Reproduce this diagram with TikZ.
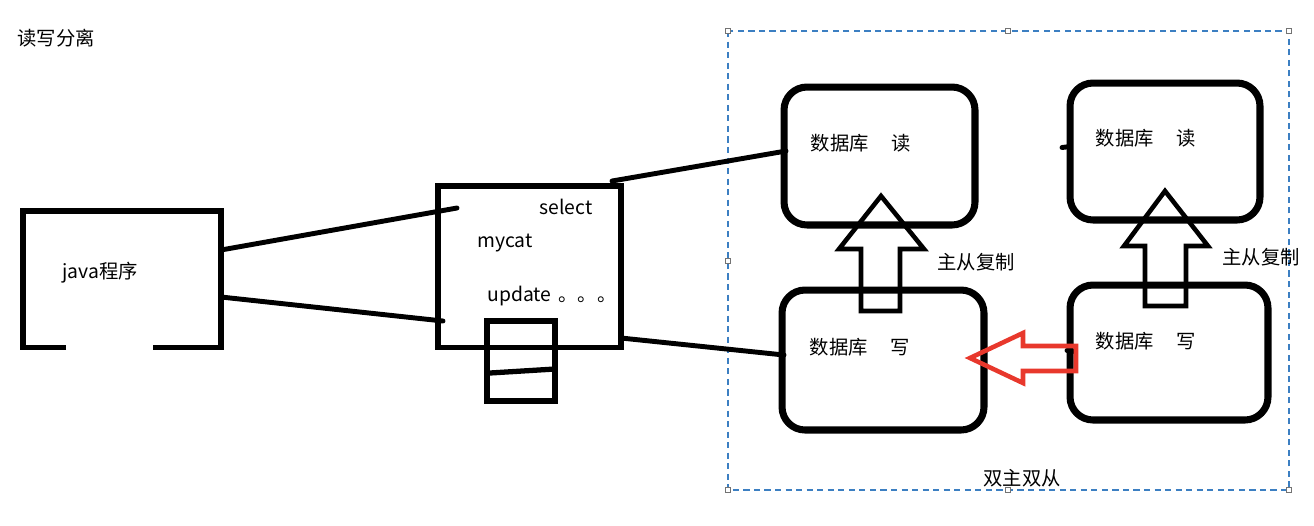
\documentclass[tikz,border=0pt]{standalone}
\usepackage{fontspec}
\setmainfont{Noto Sans CJK SC}
\usepackage{xcolor}
\definecolor{framblue}{HTML}{3C7FC2}
\definecolor{redarrow}{HTML}{E8382C}

\begin{document}
\begin{tikzpicture}[x=0.02cm, y=-0.02cm, font=\fontsize{11pt}{13pt}\selectfont]
    \useasboundingbox (0,0) rectangle (1314,525);
    \tikzset{boxnode/.style={rectangle, draw=black, line width=3.4pt, inner sep=0pt, outer sep=0pt}}
    \tikzset{dbnode/.style={rectangle, rounded corners=0.46cm, draw=black, line width=4pt, inner sep=0pt, outer sep=0pt}}
    \tikzset{wire/.style={line width=2.8pt, line cap=round}}
    \tikzset{blockarrow/.style={draw=black, line width=2.6pt, line join=miter}}
    \tikzset{handle/.style={rectangle, draw=black!55, fill=white, line width=0.5pt, minimum size=0.1cm, inner sep=0pt}}

    % SELECTION FRAME
    \draw[framblue, line width=1pt, dash pattern=on 3.5pt off 2.5pt] (728,31) rectangle (1289,490);
    \foreach \hx/\hy in {728/31, 1008/31, 1289/31, 728/261, 728/490, 1008/490, 1289/490} {
        \node[handle] (h\hx-\hy) at (\hx,\hy) {};
    }

    % TITLE
    \node (title) at (56,38) {读写分离};

    % JAVA PROGRAM
    \node[inner sep=0pt, outer sep=0pt, minimum width=3.96cm, minimum height=2.74cm] (java) at (122,279) {};
    \draw[line width=3.4pt] ([xshift=0.86cm]java.south west) -- (java.south west) -- (java.north west)
        -- (java.north east) -- (java.south east) -- ([xshift=-1.36cm]java.south east);
    \node (javatxt) at (100,273) {java程序};

    % MYCAT
    \node[boxnode, minimum width=3.66cm, minimum height=3.24cm] (mycat) at (529.5,266.5) {};
    \node[boxnode, minimum width=1.36cm, minimum height=1.6cm] (queue) at (521,361) {};
    \draw[line width=3pt] ([shift={(3,12)}]queue.west) -- ([shift={(0,8)}]queue.east);
    \node (sel) at (566,207) {select};
    \node (myc) at (505,243) {mycat};
    \node (upd) at (552,296) {update\hspace{0.35em}。。。};

    % DATABASES
    \node[dbnode, minimum width=3.82cm, minimum height=2.76cm] (dbr1) at (879.5,156) {};
    \node[dbnode, minimum width=4.04cm, minimum height=2.8cm] (dbw1) at (883,360) {};
    \node[dbnode, minimum width=3.8cm, minimum height=2.74cm] (dbr2) at (1165,151.5) {};
    \node[dbnode, minimum width=3.96cm, minimum height=2.7cm] (dbw2) at (1169,352.5) {};
    \node (tr1) at (861,143) {数据库\hspace{1.2em}读};
    \node (tw1) at (860,347) {数据库\hspace{1.2em}写};
    \node (tr2) at (1146,138) {数据库\hspace{1.2em}读};
    \node (tw2) at (1146,341) {数据库\hspace{1.2em}写};

    % CONNECTIONS
    \coordinate (jm1) at (457,208);
    \draw[wire] ([shift={(0,-29)}]java.east) -- (jm1);
    \draw[wire] ([shift={(0,18)}]java.east) -- ([shift={(5,54.5)}]mycat.west);
    \draw[wire] ([shift={(-9,-4.5)}]mycat.north east) -- ([shift={(2,-5)}]dbr1.west);
    \draw[wire] ([shift={(0,71.5)}]mycat.east) -- ([shift={(2,-5)}]dbw1.west);
    \draw[wire] ([shift={(-8,-4)}]dbr2.west) -- ([shift={(0,-5)}]dbr2.west);
    \draw[wire] ([shift={(-3,-2)}]dbw2.west) -- ([shift={(3,-1)}]dbw2.west);

    % REPLICATION ARROWS
    \draw[blockarrow] (881,196) -- (924,249) -- (900,249) -- (900,311) -- (861,311) -- (861,249) -- (839,249) -- cycle;
    \draw[blockarrow] (1165,191) -- (1208,246) -- (1186,246) -- (1186,306) -- (1145,306) -- (1145,246) -- (1124,246) -- cycle;
    \draw[blockarrow, draw=redarrow] (970,358) -- (1023,333) -- (1023,346) -- (1076,346) -- (1076,371) -- (1023,371) -- (1023,383) -- cycle;
    \node (rep1) at (976,262) {主从复制};
    \node (rep2) at (1261,257) {主从复制};

    \node (dual) at (1022,478) {双主双从};
\end{tikzpicture}
\end{document}
